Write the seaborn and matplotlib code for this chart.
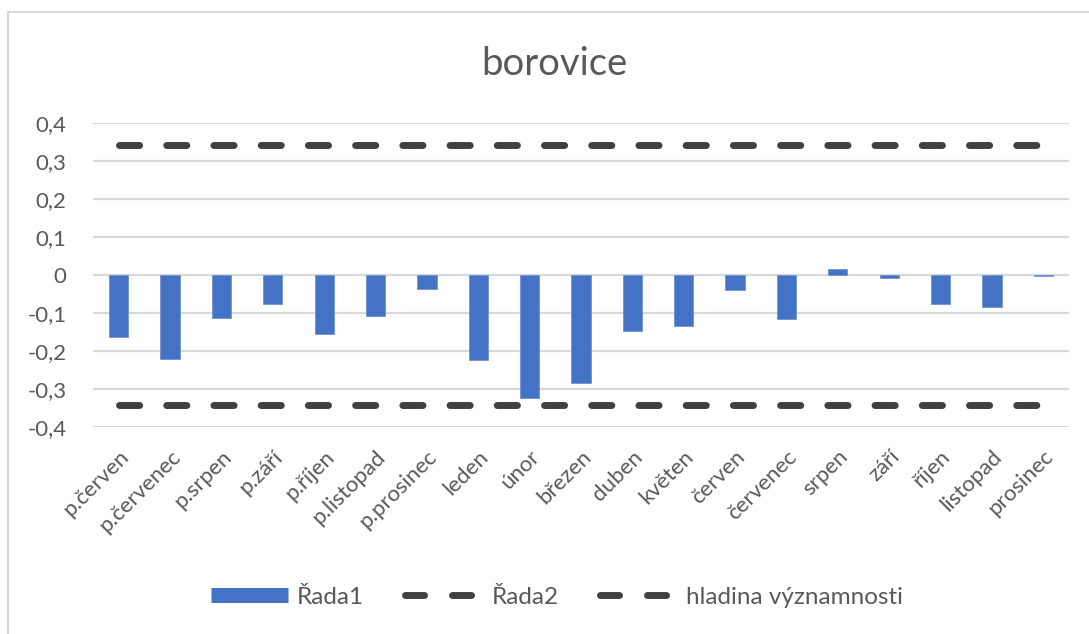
import numpy as np
import pandas as pd
import matplotlib
matplotlib.use("Agg")
import matplotlib.pyplot as plt
from matplotlib.lines import Line2D
from matplotlib.patches import Rectangle
import seaborn as sns

categories = ["p.červen", "p.červenec", "p.srpen", "p.září", "p.říjen", "p.listopad",
              "p.prosinec", "leden", "únor", "březen", "duben", "květen", "červen",
              "červenec", "srpen", "září", "říjen", "listopad", "prosinec"]
rada1 = [-0.164, -0.220, -0.112, -0.076, -0.156, -0.108, -0.036, -0.224, -0.324,
         -0.284, -0.148, -0.133, -0.040, -0.117, 0.015, -0.008, -0.076, -0.085, -0.003]
rada2 = [0.342] * len(categories)
hladina = [-0.342] * len(categories)
yticks = [-0.4, -0.3, -0.2, -0.1, 0, 0.1, 0.2, 0.3, 0.4]
ytick_labels = ["-0,4", "-0,3", "-0,2", "-0,1", "0", "0,1", "0,2", "0,3", "0,4"]
series_names = ["Řada1", "Řada2", "hladina významnosti"]
title = "borovice"

sns.set_theme(style="white")
plt.rcParams["font.family"] = ["Lato", "DejaVu Sans"]

W, H = 1089, 634
fig = plt.figure(figsize=(W / 100, H / 100), dpi=100)
ax = fig.add_axes([93 / W, 1 - 427 / H, (1069 - 93) / W, (427 - 123) / H])

df = pd.DataFrame({"kategorie": categories, "hodnota": rada1})
sns.barplot(data=df, x="kategorie", y="hodnota", color="#4472C4", saturation=1,
            width=0.376, ax=ax, zorder=3, edgecolor="#6f93d3", linewidth=0.6)

xs = np.arange(len(categories))
line_kw = dict(color="#404040", lw=5, dash_capstyle="round", zorder=4)
ax.plot(xs, rada2, dashes=(2.9, 3.9), **line_kw)
ax.plot(xs, hladina, dashes=(2.9, 3.9), **line_kw)

ax.set_xlim(-0.5, len(categories) - 0.5)
ax.set_ylim(-0.4, 0.4)
ax.set_yticks(yticks)
ax.set_yticklabels(ytick_labels)
ax.yaxis.grid(True, color="#d9d9d9", lw=1.6, zorder=0)
ax.set_axisbelow(True)
for s in ax.spines.values():
    s.set_visible(False)
ax.set_xlabel("")
ax.set_ylabel("")
ax.tick_params(axis="y", length=0, pad=19, labelsize=16, labelcolor="#595959")
ax.tick_params(axis="x", length=0, pad=14, labelsize=16, labelcolor="#595959")
ax.set_xticks(xs)
ax.set_xticklabels(categories, rotation=45, ha="right", rotation_mode="anchor")
for lab in ax.get_yticklabels():
    lab.set_ha("right")

fig.text(554.5 / W, 1 - 75 / H, title, ha="center", va="baseline",
         fontsize=27.5, color="#595959")

handles = [
    Line2D([0], [0], color="#4472C4", lw=10.8, solid_capstyle="butt"),
    Line2D([0], [0], color="#404040", lw=5, dash_capstyle="round", dashes=(2.74, 4.03)),
    Line2D([0], [0], color="#404040", lw=5, dash_capstyle="round", dashes=(2.74, 4.03)),
]
leg = fig.legend(handles, series_names, loc="center left",
                 bbox_to_anchor=(211 / W, 1 - 597 / H), ncol=3, frameon=False,
                 fontsize=17.5, handlelength=3.17, handletextpad=0.37,
                 columnspacing=1.7, labelcolor="#595959", borderaxespad=0,
                 borderpad=0)

fig.patches.append(Rectangle((8 / W, -0.02), 1.1, 1 - 12 / H + 0.02,
                             transform=fig.transFigure, fill=False,
                             edgecolor="#d9d9d9", lw=1.5, zorder=10))

fig.savefig("out.png", dpi=100)
